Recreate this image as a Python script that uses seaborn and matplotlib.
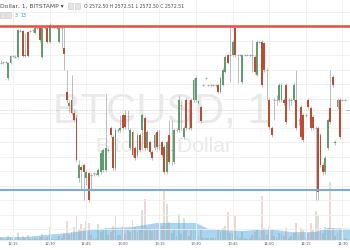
import numpy as np
import pandas as pd
import seaborn as sns
import matplotlib
matplotlib.use("Agg")
import matplotlib.pyplot as plt
from matplotlib.ticker import MultipleLocator
from matplotlib.patches import Rectangle

# ---------------- data ----------------
# one candle per minute, minute 0 = 12:10
minute = list(range(143))

open_ = [2579.1, 2579.0, 2579.1, 2576.9, 2579.0, 2579.9, 2579.9, 2579.8, 2583.5, 2583.4,
         2579.9, 2583.2, 2583.4, 2583.4, 2583.1, 2583.8, 2583.8, 2579.8, 2583.8, 2583.8,
         2581.9, 2583.9, 2583.9, 2583.9, 2581.9, 2583.8, 2581.0, 2575.0, 2573.0, 2573.9,
         2572.1, 2571.4, 2563.1, 2564.6, 2564.9, 2563.1, 2563.8, 2563.5, 2563.7, 2563.7,
         2563.5, 2563.9, 2564.2, 2564.2, 2567.0, 2570.0, 2568.8, 2564.5, 2569.7, 2569.7,
         2571.8, 2571.8, 2571.8, 2567.2, 2569.4, 2567.2, 2566.3, 2569.0, 2569.7, 2571.4,
         2567.2, 2568.1, 2566.7, 2567.2, 2569.4, 2567.7, 2568.1, 2567.4, 2563.9, 2569.0,
         2567.0, 2565.3, 2569.7, 2569.7, 2573.2, 2568.8, 2573.9, 2570.0, 2573.9, 2573.9,
         2573.9, 2573.4, 2572.9, 2575.9, 2576.9, 2575.9, 2575.9, 2575.9, 2575.9, 2575.9,
         2575.0, 2575.9, 2577.7, 2580.1, 2580.1, 2580.1, 2583.8, 2580.1, 2580.1, 2576.3,
         2580.1, 2580.1, 2580.1, 2580.1, 2579.8, 2577.3, 2581.9, 2581.9, 2581.7, 2578.0,
         2573.9, 2570.0, 2573.9, 2573.9, 2573.9, 2573.9, 2573.9, 2575.9, 2573.9, 2573.9,
         2573.9, 2573.9, 2571.1, 2572.9, 2571.8, 2571.8, 2573.9, 2572.8, 2571.5, 2570.0,
         2570.0, 2569.0, 2564.9, 2563.9, 2567.2, 2572.8, 2577.0, 2567.9, 2572.9, 2573.9,
         2573.9, 2573.9, 2572.50]

close = [2579.0, 2579.1, 2579.1, 2579.0, 2579.9, 2579.9, 2579.8, 2583.5, 2583.4, 2579.9,
         2580.1, 2579.9, 2583.4, 2583.5, 2583.8, 2583.8, 2582.1, 2583.8, 2583.8, 2581.9,
         2584.2, 2583.9, 2583.9, 2583.8, 2583.8, 2583.8, 2580.2, 2573.9, 2573.4, 2572.1,
         2571.1, 2565.6, 2564.9, 2564.2, 2563.9, 2563.9, 2560.1, 2563.5, 2563.8, 2563.7,
         2564.2, 2566.5, 2567.0, 2567.2, 2567.0, 2569.0, 2564.5, 2569.7, 2569.7, 2570.0,
         2570.0, 2570.1, 2571.7, 2569.7, 2566.3, 2565.9, 2569.0, 2567.0, 2571.8, 2567.2,
         2569.4, 2566.7, 2565.9, 2569.0, 2567.4, 2567.7, 2566.3, 2563.9, 2568.1, 2565.3,
         2567.0, 2569.7, 2569.7, 2573.9, 2573.2, 2570.0, 2570.0, 2570.0, 2570.0, 2576.6,
         2576.9, 2573.7, 2571.0, 2575.9, 2576.9, 2575.9, 2575.9, 2575.9, 2575.9, 2575.0,
         2576.9, 2578.0, 2579.8, 2579.0, 2580.1, 2581.9, 2580.1, 2580.1, 2580.1, 2580.1,
         2580.1, 2580.1, 2580.1, 2580.1, 2577.7, 2581.9, 2581.9, 2575.9, 2578.0, 2578.0,
         2570.1, 2569.0, 2573.9, 2573.9, 2575.9, 2575.9, 2573.4, 2570.8, 2573.9, 2573.9,
         2575.9, 2570.0, 2571.1, 2568.8, 2568.3, 2571.8, 2572.9, 2570.0, 2570.0, 2570.0,
         2561.2, 2564.9, 2563.9, 2565.9, 2571.1, 2570.8, 2575.9, 2568.1, 2573.9, 2568.8,
         2573.9, 2573.9, 2572.51]

high = [2579.4, 2579.2, 2579.2, 2579.1, 2580.1, 2580.1, 2580.1, 2583.7, 2583.7, 2583.5,
        2583.1, 2583.4, 2583.5, 2583.7, 2583.9, 2583.9, 2583.9, 2583.9, 2583.9, 2583.9,
        2584.5, 2584.1, 2584.1, 2584.1, 2583.9, 2583.9, 2583.9, 2578.0, 2573.9, 2577.3,
        2572.5, 2571.8, 2565.6, 2564.9, 2565.2, 2564.2, 2563.9, 2563.8, 2563.9, 2563.8,
        2564.5, 2567.0, 2567.2, 2574.8, 2567.2, 2570.3, 2569.0, 2570.0, 2570.0, 2571.8,
        2572.1, 2572.5, 2572.5, 2570.0, 2569.7, 2567.5, 2569.3, 2569.3, 2572.1, 2571.7,
        2569.7, 2568.3, 2567.0, 2569.3, 2569.7, 2569.7, 2568.3, 2567.7, 2568.3, 2571.1,
        2571.1, 2570.0, 2570.0, 2574.5, 2573.9, 2570.3, 2574.1, 2573.9, 2574.1, 2576.9,
        2577.2, 2573.9, 2573.2, 2576.1, 2577.0, 2576.1, 2576.1, 2576.1, 2576.1, 2576.1,
        2577.0, 2578.3, 2580.1, 2580.2, 2584.2, 2582.1, 2583.9, 2580.2, 2580.2, 2580.2,
        2580.2, 2580.2, 2580.2, 2582.1, 2580.1, 2582.1, 2582.0, 2582.1, 2581.9, 2578.3,
        2574.1, 2570.3, 2574.1, 2574.5, 2576.2, 2576.2, 2574.1, 2576.2, 2574.1, 2574.1,
        2576.2, 2578.0, 2571.4, 2573.2, 2572.1, 2572.1, 2574.1, 2573.0, 2571.8, 2570.3,
        2570.3, 2569.3, 2565.2, 2566.1, 2571.4, 2578.0, 2577.3, 2568.3, 2574.1, 2574.1,
        2574.0, 2574.0, 2572.51]

low = [2578.8, 2578.8, 2579.0, 2576.6, 2578.8, 2579.8, 2579.7, 2579.7, 2583.2, 2579.8,
       2579.8, 2579.8, 2583.2, 2583.2, 2583.0, 2583.7, 2581.9, 2579.7, 2583.7, 2581.7,
       2581.7, 2583.8, 2583.8, 2583.7, 2581.7, 2581.0, 2578.0, 2573.4, 2572.2, 2571.8,
       2570.8, 2565.3, 2562.6, 2561.5, 2560.1, 2562.2, 2559.8, 2561.5, 2563.4, 2563.5,
       2563.4, 2563.7, 2563.9, 2563.9, 2566.7, 2568.8, 2564.2, 2564.2, 2569.4, 2569.4,
       2569.7, 2569.9, 2569.7, 2567.0, 2566.0, 2565.6, 2566.0, 2566.7, 2567.0, 2567.0,
       2567.0, 2566.4, 2565.6, 2567.0, 2567.1, 2567.0, 2566.0, 2563.7, 2563.7, 2565.0,
       2564.9, 2565.0, 2569.4, 2569.4, 2569.7, 2568.5, 2569.7, 2569.7, 2569.7, 2573.6,
       2573.6, 2573.3, 2570.7, 2575.8, 2576.8, 2575.8, 2575.8, 2575.8, 2575.7, 2574.8,
       2574.8, 2575.8, 2577.6, 2578.8, 2576.3, 2579.9, 2579.8, 2576.2, 2579.9, 2576.1,
       2579.9, 2579.9, 2579.9, 2577.7, 2577.4, 2577.2, 2581.7, 2575.7, 2577.7, 2573.9,
       2569.9, 2568.8, 2571.1, 2573.2, 2573.6, 2573.6, 2573.2, 2570.6, 2572.5, 2573.2,
       2573.6, 2569.7, 2570.4, 2568.5, 2568.1, 2571.5, 2572.6, 2569.7, 2569.7, 2560.1,
       2560.1, 2564.6, 2563.5, 2563.7, 2567.0, 2570.6, 2575.7, 2567.7, 2572.6, 2568.5,
       2573.7, 2573.7, 2572.50]

volume = [0.8, 0.6, 0.4, 1.5, 1.2, 0.4, 0.5, 3.0, 0.6, 1.8,
          0.9, 2.0, 0.5, 0.7, 1.0, 0.3, 1.2, 2.5, 0.3, 1.4,
          5.5, 0.4, 0.3, 0.5, 1.6, 0.8, 2.4, 8.0, 2.2, 3.5,
          5.5, 10.0, 4.0, 6.5, 5.0, 8.0, 7.0, 2.0, 1.0, 0.5,
          6.5, 3.5, 4.0, 5.0, 2.0, 3.5, 6.0, 10.5, 2.0, 2.0,
          6.0, 2.5, 4.5, 3.5, 8.5, 5.5, 3.5, 4.0, 12.5, 17.0,
          5.0, 5.0, 3.8, 4.5, 4.0, 2.5, 6.0, 20.5, 15.0, 7.5,
          3.0, 4.0, 1.5, 11.0, 2.5, 9.0, 4.5, 1.5, 4.5, 5.0,
          4.0, 1.5, 4.5, 1.0, 0.8, 1.0, 0.8, 0.7, 0.8, 4.0,
          3.5, 5.0, 6.0, 11.5, 3.0, 3.0, 10.0, 1.5, 0.8, 3.5,
          0.8, 0.6, 0.8, 2.0, 3.5, 4.5, 1.0, 18.5, 5.0, 2.0,
          6.0, 4.0, 1.5, 1.0, 3.0, 2.5, 1.5, 5.0, 1.0, 1.5,
          3.0, 7.0, 1.5, 5.0, 4.0, 1.0, 3.0, 7.0, 4.0, 12.0,
          10.5, 5.0, 3.0, 5.5, 5.0, 24.0, 5.0, 1.5, 3.0, 5.0,
          1.0, 0.8, 0.5]

vol_ma_minute = [-1, 10, 27, 37, 45, 54, 64, 71, 80, 85, 89, 99, 110, 119, 129, 134, 144]
vol_ma = [1.25, 1.25, 2.9, 4.2, 5.0, 5.4, 7.1, 7.1, 7.1, 4.6, 4.2, 3.75, 4.6, 3.3, 3.3, 5.0, 4.6]

tick_minutes = [5, 20, 35, 50, 65, 80, 95, 110, 125, 140]
tick_labels = ["12:15", "12:30", "12:45", "13:00", "13:15",
               "13:30", "13:45", "14:00", "14:15", "14:30"]

resistance = 2584.0
support = 2561.5

# ---------------- style ----------------
sns.set_style("white")
plt.rcParams["font.family"] = ["DejaVu Sans"]

UP = "#5f9d6e"
DOWN = "#c04b34"
WICK = "#a4a4a4"

df = pd.DataFrame({"minute": minute, "open": open_, "close": close,
                   "high": high, "low": low, "volume": volume})
df["dir"] = np.where(df["close"] >= df["open"], "up", "down")

fig = plt.figure(figsize=(3.5, 2.5), dpi=100)
ax = fig.add_axes([0, 10 / 250, 1, 240 / 250])
ax2 = ax.twinx()
ax.set_zorder(ax2.get_zorder() + 1)
ax.patch.set_visible(False)

# volume panel
ax2.fill_between(vol_ma_minute, 0, vol_ma, color="#a9d5f3", lw=0, zorder=1)
sns.barplot(data=df, x="minute", y="volume", hue="dir",
            palette={"up": "#6ba583", "down": "#d07a6a"}, native_scale=True,
            dodge=False, width=0.75, alpha=0.3, linewidth=0, errorbar=None,
            legend=False, ax=ax2, zorder=2)
ax2.set_ylim(0, 100)
ax2.set_axis_off()

# grid
ax.yaxis.set_major_locator(MultipleLocator(2))
ax.set_xticks(tick_minutes)
ax.grid(True, color="#efefef", lw=0.6)
ax.set_axisbelow(True)

# watermark
fig.text(161.5 / 350, 1 - 123 / 250, "BTCUSD, 1", ha="center", va="baseline",
         fontsize=30, color="#e9e9e9", family="Liberation Sans", zorder=0)
fig.text(164 / 350, 1 - 152 / 250, "Bitcoin / Dollar", ha="center", va="baseline",
         fontsize=15.2, color="#e9e9e9", family="Liberation Sans", zorder=0)

# candles
ax.vlines(df["minute"], df["low"], df["high"], color=WICK, lw=0.5, zorder=3)
body = df[(df["close"] - df["open"]).abs() >= 0.15]
flat = df[(df["close"] - df["open"]).abs() < 0.15]
ax.bar(body["minute"], body["close"] - body["open"], bottom=body["open"], width=0.75,
       color=[UP if d == "up" else DOWN for d in body["dir"]], lw=0, zorder=4)
ax.hlines(flat["close"], flat["minute"] - 0.4, flat["minute"] + 0.4,
          color="#9a9a9a", lw=0.6, zorder=4)

# horizontal levels
ax.axhline(resistance, color="#ec4a3c", lw=1.8, zorder=5)
ax.axhline(support, color="#79acdd", lw=1.5, zorder=5)
ax.axhline(close[-1], color="#9cc3aa", lw=0.5, ls=(0, (1, 1.5)), zorder=2)

ax.set_xlim(-0.33, 143.1)
ax.set_ylim(2554.55, 2587.65)
ax2.set_xlim(-0.33, 143.1)

ax.set_xticklabels(tick_labels, fontsize=2.7, color="#555555")
ax.tick_params(axis="x", length=0, pad=1.2)
ax.tick_params(axis="y", left=False, right=False, labelleft=False)
for s in ["top", "left", "right"]:
    ax.spines[s].set_visible(False)
ax.spines["bottom"].set_color("#e2e2e2")
ax.spines["bottom"].set_linewidth(0.5)

# header
fig.text(0.5 / 350, 1 - 6.5 / 250, "Dollar, 1, BITSTAMP \u25BE", ha="left",
         va="center", fontsize=4.3, color="#4a4a4a")
fig.text(84 / 350, 1 - 6.5 / 250,
         f"O {open_[-1]:.2f} H {high[-1]:.2f} L {low[-1]:.2f} C {close[-1]:.2f}",
         ha="left", va="center", fontsize=3.3, color="#4a4a4a")
for x0, y0 in [(68, 3.5), (75, 3.5), (0, 12.5), (6, 12.5)]:
    fig.patches.append(Rectangle((x0 / 350, 1 - (y0 + 5.5) / 250), 5 / 350, 5.5 / 250,
                                 transform=fig.transFigure, facecolor="#e4e4e4",
                                 edgecolor="#c8c8c8", lw=0.4))
fig.text(15 / 350, 1 - 15.5 / 250, "3", ha="left", va="center", fontsize=3.3,
         color="#4caf50")
fig.text(20 / 350, 1 - 15.5 / 250, "13", ha="left", va="center", fontsize=3.3,
         color="#2196f3")

fig.savefig("out.png", dpi=100)
